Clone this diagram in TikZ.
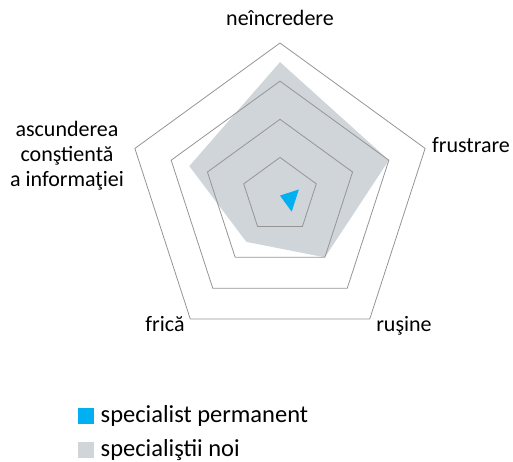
\documentclass[tikz,border=0pt]{standalone}
\usepackage{fontspec}
\setmainfont{Carlito}
\usetikzlibrary{calc}
\definecolor{gridc}{HTML}{959595}
\definecolor{newfill}{HTML}{D0D5DA}
\definecolor{permfill}{HTML}{00B0F0}
\begin{document}
\begin{tikzpicture}[x=1pt,y=1pt,
  gridline/.style={draw=gridc,line width=0.8pt,line join=miter},
  lbl/.style={font=\fontsize{22}{25}\selectfont,inner sep=0pt,anchor=base},
  legtext/.style={font=\fontsize{24.5}{28}\selectfont,inner sep=0pt,anchor=base west}]
\useasboundingbox (0,0) rectangle (513,461);
\coordinate (c) at (280,265.4);
\def\RR{152.6}
% grey series
\fill[newfill] ($(c)+(90:{0.875*\RR})$) -- ($(c)+(18:{0.75*\RR})$) -- ($(c)+(-54:{0.5*\RR})$) -- ($(c)+(-126:{0.375*\RR})$) -- ($(c)+(162:{0.625*\RR})$) -- cycle;
% grid rings
\foreach \k in {0.25,0.5,0.75,1}{
  \draw[gridline] ($(c)+(90:{\k*\RR})$) -- ($(c)+(18:{\k*\RR})$) -- ($(c)+(-54:{\k*\RR})$) -- ($(c)+(-126:{\k*\RR})$) -- ($(c)+(162:{\k*\RR})$) -- cycle;
}
% blue series
\fill[permfill] (c) -- ($(c)+(18:{0.13*\RR})$) -- ($(c)+(-54:{0.13*\RR})$) -- cycle;
% labels
\node[lbl] (l1) at (280,435) {neîncredere};
\node[lbl] (l2) at (471,308) {frustrare};
\node[lbl] (l3) at (404,130) {ruşine};
\node[lbl] (l4) at (165,130) {frică};
\node[lbl] (l5a) at (67,324.3) {ascunderea};
\node[lbl] (l5b) at (67,299.3) {conştientă};
\node[lbl] (l5c) at (67,274.3) {a informaţiei};
% legend
\fill[permfill] (78.3,37.3) rectangle (94.3,53.3);
\node[legtext] (g1) at (100.5,39) {specialist permanent};
\fill[newfill] (78.3,3.3) rectangle (94.3,19.3);
\node[legtext] (g2) at (100.5,5) {specialiştii noi};
\end{tikzpicture}
\end{document}
